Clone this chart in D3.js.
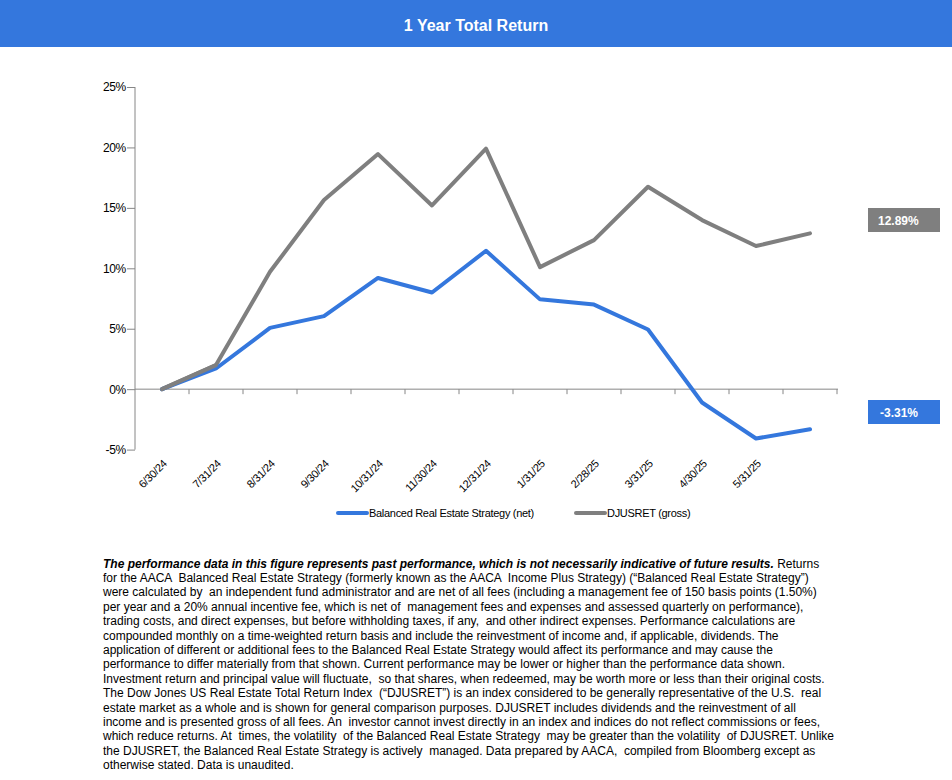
<!DOCTYPE html>
<html>
<head>
<meta charset="utf-8">
<script src="https://cdn.jsdelivr.net/npm/d3@7"></script>
<style>
  html, body { margin: 0; padding: 0; background: #fff; }
  svg { display: block; font-family: "Liberation Sans", Arial, sans-serif; }
</style>
</head>
<body>
<svg id="chart" width="952" height="780"></svg>
<script>
// ---- Data ----
const categories = ["6/30/24","7/31/24","8/31/24","9/30/24","10/31/24","11/30/24","12/31/24","1/31/25","2/28/25","3/31/25","4/30/25","5/31/25","6/30/25"];
const tickLabels = ["6/30/24","7/31/24","8/31/24","9/30/24","10/31/24","11/30/24","12/31/24","1/31/25","2/28/25","3/31/25","4/30/25","5/31/25",""];
const strategyNet = [0, 1.71, 5.07, 6.04, 9.2, 8.0, 11.45, 7.43, 7.0, 4.94, -1.1, -4.08, -3.31];
const djusretGross = [0, 1.99, 9.71, 15.65, 19.45, 15.2, 19.9, 10.1, 12.33, 16.75, 13.99, 11.84, 12.89];
const yTicks = [-5, 0, 5, 10, 15, 20, 25];
const seriesNames = ["Balanced Real Estate Strategy (net)", "DJUSRET (gross)"];
const endLabels = ["-3.31%", "12.89%"];
const title = "1 Year Total Return";
const footBold = "The performance data in this figure represents past performance, which is not necessarily indicative of future results.";
const footLines = [
  " Returns",
  "for the AACA  Balanced Real Estate Strategy (formerly known as the AACA  Income Plus Strategy) (\u201cBalanced Real Estate Strategy\u201d)",
  "were calculated by  an independent fund administrator and are net of all fees (including a management fee of 150 basis points (1.50%)",
  "per year and a 20% annual incentive fee, which is net of  management fees and expenses and assessed quarterly on performance),",
  "trading costs, and direct expenses, but before withholding taxes, if any,  and other indirect expenses. Performance calculations are",
  "compounded monthly on a time-weighted return basis and include the reinvestment of income and, if applicable, dividends. The",
  "application of different or additional fees to the Balanced Real Estate Strategy would affect its performance and may cause the",
  "performance to differ materially from that shown. Current performance may be lower or higher than the performance data shown.",
  "Investment return and principal value will fluctuate,  so that shares, when redeemed, may be worth more or less than their original costs.",
  "The Dow Jones US Real Estate Total Return Index  (\u201cDJUSRET\u201d) is an index considered to be generally representative of the U.S.  real",
  "estate market as a whole and is shown for general comparison purposes. DJUSRET includes dividends and the reinvestment of all",
  "income and is presented gross of all fees. An  investor cannot invest directly in an index and indices do not reflect commissions or fees,",
  "which reduce returns. At  times, the volatility  of the Balanced Real Estate Strategy  may be greater than the volatility  of DJUSRET. Unlike",
  "the DJUSRET, the Balanced Real Estate Strategy is actively  managed. Data prepared by AACA,  compiled from Bloomberg except as",
  "otherwise stated. Data is unaudited."
];

// ---- Styles ----
const blue = "#3477dd";
const gray = "#7f7f7f";
const axisColor = "#868686";

const svg = d3.select("#chart");

// Title bar
svg.append("rect").attr("x", 0).attr("y", 0).attr("width", 952).attr("height", 47).attr("fill", blue);
svg.append("text").attr("x", 476).attr("y", 30.5).attr("text-anchor", "middle")
  .attr("fill", "#fff").attr("font-weight", "bold").attr("font-size", 16).text(title);

// Scales
const x = d3.scaleBand().domain(categories).range([135, 837]).padding(0);
const y = d3.scaleLinear().domain([-5, 25]).range([449.6, 87]);
const cx = d => x(d) + x.bandwidth() / 2;

// Y axis
const yAxis = d3.axisLeft(y).tickValues(yTicks).tickSize(8).tickPadding(1).tickFormat(d => d + "%");
const yg = svg.append("g").attr("transform", "translate(135,0)").call(yAxis);
yg.select(".domain").attr("stroke", axisColor).attr("d", `M0,${y(25)}V${y(-5)}`);
yg.selectAll(".tick line").attr("stroke", axisColor);
yg.selectAll(".tick text").attr("fill", "#000").attr("font-size", 12).style("letter-spacing", "-0.3px");

// X axis (at zero)
const xg = svg.append("g").attr("transform", `translate(0,${y(0)})`);
xg.append("line").attr("x1", 135).attr("x2", 838).attr("y1", 0).attr("y2", 0).attr("stroke", axisColor);
xg.selectAll("line.tk").data(categories).join("line").attr("class", "tk")
  .attr("x1", d => x(d) + x.bandwidth()).attr("x2", d => x(d) + x.bandwidth())
  .attr("y1", 0).attr("y2", 5).attr("stroke", axisColor);

// X labels (rotated)
svg.append("g").selectAll("text").data(categories).join("text")
  .attr("transform", d => `translate(${cx(d) + 3},${y(-5) + 12}) rotate(-45)`)
  .attr("text-anchor", "end").attr("dy", "0.35em")
  .attr("font-size", 11).attr("fill", "#000").style("letter-spacing", "-0.3px")
  .text((d, i) => tickLabels[i]);

// Lines
const line = d3.line().x((d, i) => cx(categories[i])).y(d => y(d));
svg.append("path").datum(djusretGross).attr("d", line).attr("fill", "none")
  .attr("stroke", gray).attr("stroke-width", 4).attr("stroke-linejoin", "round").attr("stroke-linecap", "round");
svg.append("path").datum(strategyNet).attr("d", line).attr("fill", "none")
  .attr("stroke", blue).attr("stroke-width", 4).attr("stroke-linejoin", "round").attr("stroke-linecap", "round");
svg.append("path").datum(djusretGross.slice(0, 2)).attr("d", line).attr("fill", "none")
  .attr("stroke", gray).attr("stroke-width", 4).attr("stroke-linecap", "round");

// End labels
const lastVals = [strategyNet[strategyNet.length - 1], djusretGross[djusretGross.length - 1]];
const endColors = [blue, gray];
const eg = svg.append("g").selectAll("g").data(lastVals).join("g")
  .attr("transform", (d, i) => `translate(868,${i === 0 ? 400 : 208})`);
eg.append("rect").attr("width", 72).attr("height", 24).attr("fill", (d, i) => endColors[i]);
eg.append("text").attr("x", (d, i) => i === 0 ? 12 : 10).attr("y", 16.5)
  .attr("fill", "#fff").attr("font-weight", "bold").attr("font-size", 12)
  .text((d, i) => endLabels[i]);

// Legend
const legendX = [338, 576];
const lg = svg.append("g").selectAll("g").data(seriesNames).join("g")
  .attr("transform", (d, i) => `translate(${legendX[i]},513)`);
lg.append("line").attr("x1", 0).attr("x2", 29).attr("y1", 0).attr("y2", 0)
  .attr("stroke", (d, i) => endColors[i]).attr("stroke-width", 4).attr("stroke-linecap", "round");
lg.append("text").attr("x", 31).attr("y", 4).attr("font-size", 11).attr("fill", "#000")
  .style("letter-spacing", "-0.3px").text(d => d);

// Footnote
const fg = svg.append("g").attr("font-size", 12).attr("fill", "#000");
const lh = 14.4;
const first = fg.append("text").attr("x", 103).attr("y", 567.5).style("white-space", "pre");
first.append("tspan").attr("font-weight", "bold").attr("font-style", "italic").text(footBold);
first.append("tspan").text(footLines[0]);
fg.selectAll("text.ln").data(footLines.slice(1)).join("text").attr("class", "ln")
  .attr("x", 103).attr("y", (d, i) => 567.5 + (i + 1) * lh)
  .style("white-space", "pre").text(d => d);
</script>
</body>
</html>
